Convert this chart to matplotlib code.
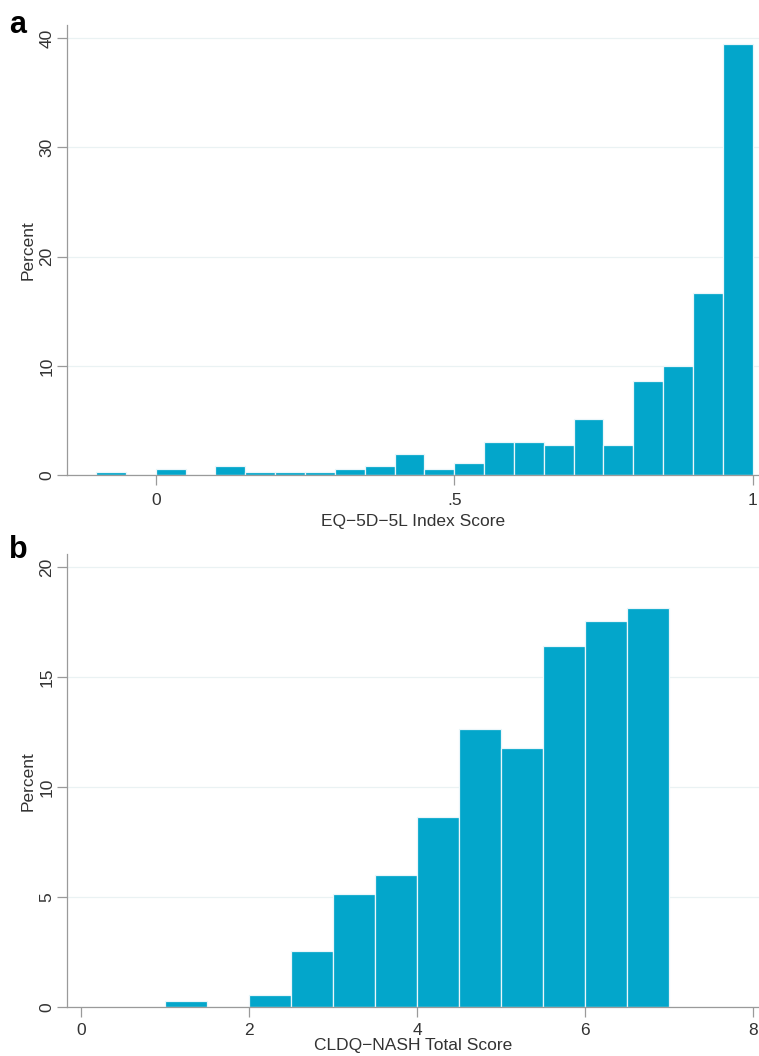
import numpy as np
import matplotlib.pyplot as plt

plt.rcParams['font.family'] = ['Liberation Sans', 'DejaVu Sans']

# panel a: EQ-5D-5L index score, bins of width .05 starting at -.1
eq_edges = [-0.10, -0.05, 0.00, 0.05, 0.10, 0.15, 0.20, 0.25, 0.30, 0.35, 0.40,
            0.45, 0.50, 0.55, 0.60, 0.65, 0.70, 0.75, 0.80, 0.85, 0.90, 0.95, 1.00]
eq_pct = [0.28, 0.0, 0.55, 0.0, 0.83, 0.28, 0.28, 0.28, 0.55, 0.83, 1.94,
          0.55, 1.11, 3.06, 3.06, 2.78, 5.15, 2.78, 8.60, 10.03, 16.68, 39.46]

# panel b: CLDQ-NASH total score, bins of width .5 starting at 1
cl_edges = [1.0, 1.5, 2.0, 2.5, 3.0, 3.5, 4.0, 4.5, 5.0, 5.5, 6.0, 6.5, 7.0]
cl_pct = [0.28, 0.0, 0.55, 2.56, 5.15, 6.03, 8.63, 12.66, 11.80, 16.40, 17.57, 18.13]

bar_col = '#03a6cb'
axis_col = '#9a9a9a'
grid_col = '#eaf2f3'
text_col = '#333333'


def draw_hist(ax, edges, pct, xticks, xticklabels, yticks, xlim, ylim, xlabel,
              xpad=6, xlabelpad=4):
    edges = np.array(edges)
    ax.bar(edges[:-1], pct, width=np.diff(edges), align='edge',
           color=bar_col, edgecolor='#eaf6fa', linewidth=0.9, zorder=2)
    ax.set_xlim(*xlim)
    ax.set_ylim(*ylim)
    ax.set_xticks(xticks)
    ax.set_xticklabels(xticklabels)
    ax.set_yticks(yticks)
    ax.set_yticklabels([str(t) for t in yticks], rotation=90, va='center')
    ax.yaxis.grid(True, color=grid_col, linewidth=0.9, zorder=0)
    ax.set_axisbelow(True)
    for s in ['top', 'right']:
        ax.spines[s].set_visible(False)
    for s in ['left', 'bottom']:
        ax.spines[s].set_color(axis_col)
        ax.spines[s].set_linewidth(0.9)
    ax.tick_params(axis='both', colors=axis_col, labelcolor=text_col,
                   labelsize=12.5, length=7, width=0.9)
    ax.tick_params(axis='y', pad=2)
    ax.tick_params(axis='x', pad=xpad)
    ax.set_ylabel('Percent', fontsize=12.5, color=text_col, labelpad=3)
    ax.set_xlabel(xlabel, fontsize=12.5, color=text_col, labelpad=xlabelpad)


fig = plt.figure(figsize=(7.59, 10.56), dpi=100)

ax1 = fig.add_axes([0.0883, 0.5499, 0.9117, 0.4264])
draw_hist(ax1, eq_edges, eq_pct, [0, 0.5, 1], ['0', '.5', '1'], [0, 10, 20, 30, 40],
          (-0.1486, 1.0106), (0, 41.2), 'EQ\u22125D\u22125L Index Score')

ax2 = fig.add_axes([0.0883, 0.0461, 0.9117, 0.4293])
draw_hist(ax2, cl_edges, cl_pct, [0, 2, 4, 6, 8], ['0', '2', '4', '6', '8'], [0, 5, 10, 15, 20],
          (-0.167, 8.07), (0, 20.6), 'CLDQ\u2212NASH Total Score',
          xpad=4, xlabelpad=0.5)

fig.text(0.012, 0.991, 'a', fontsize=22, fontweight='bold', va='top')
fig.text(0.012, 0.493, 'b', fontsize=22, fontweight='bold', va='top')

fig.savefig('out.png', dpi=100)
